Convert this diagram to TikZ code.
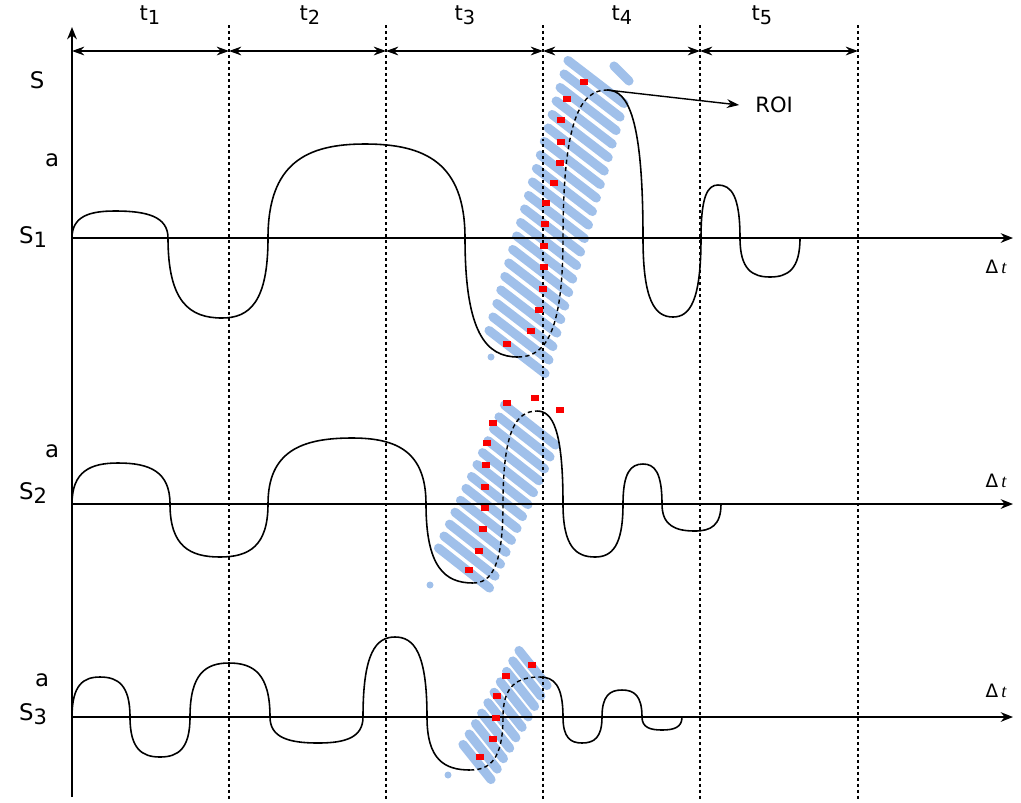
\documentclass[tikz,border=0pt]{standalone}
\usepackage{fontspec}
\setmainfont{DejaVu Sans}
\newfontfamily\serifit{Liberation Serif}
\usetikzlibrary{arrows.meta}
\definecolor{roiblue}{RGB}{160,192,234}
\definecolor{dotred}{RGB}{250,0,0}
\def\kv{0.8}
\def\kh{0.6}
% crossing (#1,#2) -> extremum (#3,#4)
\newcommand\Qd[4]{.. controls (#1,{#2+\kv*(#4-(#2))}) and ({#3-\kh*(#3-(#1))},#4) .. (#3,#4)}
% extremum (#1,#2) -> crossing (#3,#4)
\newcommand\Qu[4]{.. controls ({#1+\kh*(#3-(#1))},#2) and (#3,{#4+\kv*(#2-(#4))}) .. (#3,#4)}
\begin{document}
\begin{tikzpicture}[x=0.02cm,y=-0.02cm,
  curve/.style={line width=0.9pt,black},
  dcurve/.style={line width=0.8pt,black,dash pattern=on 2.4pt off 1.8pt},
  gridline/.style={line width=0.85pt,dash pattern=on 1.7pt off 1.7pt},
  axis/.style={line width=0.8pt,-{Stealth[length=7pt,width=5.5pt]}},
  span/.style={line width=0.8pt,{Stealth[length=7pt,width=5pt]}-{Stealth[length=7pt,width=5pt]}},
  roistroke/.style={line width=5.2pt,line cap=round,roiblue},
  lbl/.style={inner sep=0pt,font=\fontsize{13}{15}\selectfont},
  tl/.style={inner sep=0pt,font=\fontsize{12}{14}\selectfont},
  dl/.style={inner sep=0pt,font=\fontsize{10.5}{12}\selectfont},
  reddot/.style={fill=dotred}]
\useasboundingbox (0,0) rectangle (1021,802);

% ---- ROI hatching ----
\foreach \i in {0,...,20}{
  \pgfmathsetmacro\cx{517+(596-517)*\i/20}
  \pgfmathsetmacro\cy{352+(82-352)*\i/20}
  \draw[roistroke] ({\cx-28},{\cy-21.5}) -- ({\cx+28},{\cy+21.5});
}
\draw[roistroke] (614,66) -- (629,81);
\fill[roiblue] (491,357) circle (3.5);
\foreach \i in {0,...,12}{
  \pgfmathsetmacro\cx{464+(530-464)*\i/12}
  \pgfmathsetmacro\cy{568+(425-568)*\i/12}
  \draw[roistroke] ({\cx-25.5},{\cy-20}) -- ({\cx+25.5},{\cy+20});
}
\fill[roiblue] (430,585) circle (3.5);
\foreach \i in {0,...,9}{
  \pgfmathsetmacro\cx{477+(533-477)*\i/9}
  \pgfmathsetmacro\cy{762+(668-762)*\i/9}
  \draw[roistroke] ({\cx-14},{\cy-17.5}) -- ({\cx+14},{\cy+17.5});
}
\fill[roiblue] (448,775) circle (3.5);

% ---- time grid ----
\foreach \x/\n in {229/g1,386/g2,543/g3,700/g4,858/g5}{
  \coordinate (\n t) at (\x,25);
  \coordinate (\n b) at (\x,800);
  \coordinate (\n a) at (\x,51);
  \draw[gridline] (\n t) -- (\n b);
}
\coordinate (g0a) at (72,51);
\draw[span] (g0a) -- (g1a);
\draw[span] (g1a) -- (g2a);
\draw[span] (g2a) -- (g3a);
\draw[span] (g3a) -- (g4a);
\draw[span] (g4a) -- (g5a);
\node[tl] (t1) at (150,15) {t\raisebox{-2pt}{\fontsize{11}{11}\selectfont 1}};
\node[tl] (t2) at (310,15) {t\raisebox{-2pt}{\fontsize{11}{11}\selectfont 2}};
\node[tl] (t3) at (465,15) {t\raisebox{-2pt}{\fontsize{11}{11}\selectfont 3}};
\node[tl] (t4) at (622,15) {t\raisebox{-2pt}{\fontsize{11}{11}\selectfont 4}};
\node[tl] (t5) at (762,15) {t\raisebox{-2pt}{\fontsize{11}{11}\selectfont 5}};

% ---- axes ----
\coordinate (yb) at (72,797);
\coordinate (yt) at (72,27);
\draw[axis,line width=1.1pt] (yb) -- (yt);
\coordinate (a1s) at (72,238);  \coordinate (a1e) at (1013,238);
\coordinate (a2s) at (72,504);  \coordinate (a2e) at (1013,504);
\coordinate (a3s) at (72,717);  \coordinate (a3e) at (1013,717);
\draw[axis] (a1s) -- (a1e);
\draw[axis] (a2s) -- (a2e);
\draw[axis] (a3s) -- (a3e);

% ---- signal S1 ----
\draw[curve] (72,238) \Qd{72}{238}{115}{211} \Qu{115}{211}{168}{238}
  \Qd{168}{238}{222}{318} \Qu{222}{318}{268}{238}
  \Qd{268}{238}{365}{144} \Qu{365}{144}{465}{238}
  \Qd{465}{238}{518}{357};
\draw[dcurve] (518,357) \Qu{518}{357}{563}{238} \Qd{563}{238}{607}{90};
\coordinate (p1) at (607,90);
\draw[curve] (p1) \Qu{607}{90}{643}{238} \Qd{643}{238}{673}{317}
  \Qu{673}{317}{701}{238} \Qd{701}{238}{718}{185}
  \Qu{718}{185}{740}{238} \Qd{740}{238}{770}{277}
  \Qu{770}{277}{800}{238};

% ---- signal S2 ----
\draw[curve] (72,504) \Qd{72}{504}{118}{463} \Qu{118}{463}{170}{504}
  \Qd{170}{504}{220}{557} \Qu{220}{557}{268}{504}
  \Qd{268}{504}{352}{438} \Qu{352}{438}{426}{504}
  \Qd{426}{504}{473}{583};
\draw[dcurve] (473,583) \Qu{473}{583}{503}{504} \Qd{503}{504}{537}{411};
\draw[curve] (537,411) \Qu{537}{411}{563}{504} \Qd{563}{504}{595}{557}
  \Qu{595}{557}{623}{504} \Qd{623}{504}{643}{464}
  \Qu{643}{464}{662}{504} \Qd{662}{504}{695}{531}
  \Qu{695}{531}{721}{504};

% ---- signal S3 ----
\draw[curve] (72,717) \Qd{72}{717}{100}{677} \Qu{100}{677}{130}{717}
  \Qd{130}{717}{160}{757} \Qu{160}{757}{190}{717}
  \Qd{190}{717}{229}{663} \Qu{229}{663}{270}{717}
  \Qd{270}{717}{318}{743} \Qu{318}{743}{363}{717}
  \Qd{363}{717}{395}{637} \Qu{395}{637}{427}{717}
  \Qd{427}{717}{470}{770};
\draw[dcurve] (470,770) \Qu{470}{770}{503}{717} \Qd{503}{717}{540}{677};
\draw[curve] (540,677) \Qu{540}{677}{563}{717} \Qd{563}{717}{582}{743}
  \Qu{582}{743}{602}{717} \Qd{602}{717}{622}{690}
  \Qu{622}{690}{642}{717} \Qd{642}{717}{662}{730}
  \Qu{662}{730}{682}{717};

% ---- red markers ----
\foreach \x/\y in {584/82,567/99,561/120,561/142,560/163,554/183,546/203,545/224,544/246,544/267,543/289,539/310,531/331,507/344,
  507/403,535/398,560/410,493/423,487/443,486/465,485/487,485/508,483/529,479/551,469/570,
  532/665,506/676,497/696,496/718,493/739,480/757}{
  \fill[reddot] ({\x-4},{\y-2.8}) rectangle ({\x+4},{\y+2.8});
}

% ---- labels ----
\node[lbl] (S) at (37,80) {S};
\node[lbl] (a1) at (52,160) {a};
\node[lbl] (s1) at (33,237) {S\raisebox{-2.5pt}{\fontsize{12}{12}\selectfont 1}};
\node[lbl] (a2) at (52,451) {a};
\node[lbl] (s2) at (33,493) {S\raisebox{-2.5pt}{\fontsize{12}{12}\selectfont 2}};
\node[lbl] (a3) at (42,680) {a};
\node[lbl] (s3) at (33,714) {S\raisebox{-2.5pt}{\fontsize{12}{12}\selectfont 3}};
\node[dl] (d1) at (996,267) {Δ\,{\serifit\itshape t}};
\node[dl] (d2) at (996,481) {Δ\,{\serifit\itshape t}};
\node[dl] (d3) at (996,691) {Δ\,{\serifit\itshape t}};
\node[inner sep=0pt,font=\fontsize{12}{14}\selectfont,anchor=west] (roi) at (755,105) {ROI};
\draw[line width=0.8pt,-{Stealth[length=7pt,width=5pt]}] (p1) -- ([xshift=-9pt]roi.west);
\end{tikzpicture}
\end{document}
